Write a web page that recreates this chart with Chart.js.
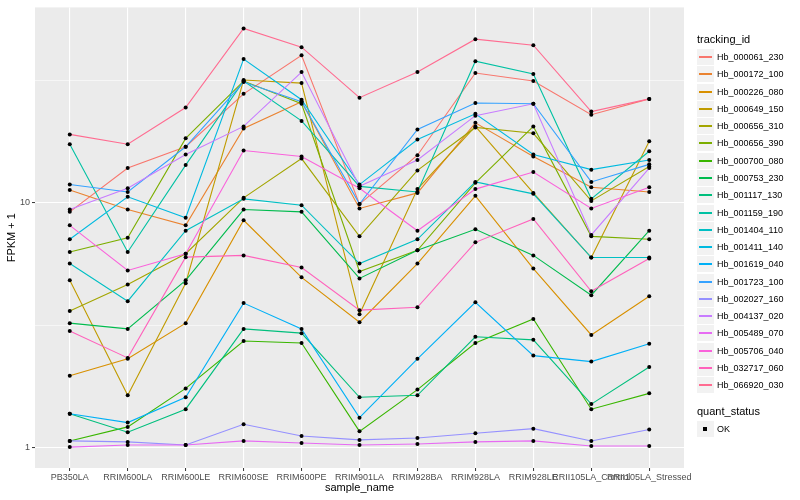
<!DOCTYPE html>
<html>
<head>
<meta charset="utf-8">
<script src="https://cdn.jsdelivr.net/npm/chart.js@4"></script>
<style>
  body { margin: 0; background: #ffffff; }
  #wrap { position: relative; width: 800px; height: 500px; font-family: "Liberation Sans", Arial, sans-serif; color: #000; }
  #c { position: absolute; left: 0; top: 0; }
  .lg-title { position: absolute; left: 697px; font-size: 11px; line-height: 13px; white-space: nowrap; }
  .lg-key { position: absolute; left: 697px; width: 17px; height: 16px; background: #F2F2F2; }
  .lg-line { position: absolute; left: 2px; right: 2px; top: 7px; height: 2px; }
  .lg-dot { position: absolute; left: 6px; top: 6px; width: 4px; height: 4px; background: #000; }
  .lg-text { position: absolute; left: 717px; font-size: 9px; line-height: 11px; white-space: nowrap; }
</style>
</head>
<body>
<div id="wrap">
  <canvas id="c" width="800" height="500"></canvas>
</div>
<script>
// ---- data (FPKM + 1) ----
const samples = ["PB350LA","RRIM600LA","RRIM600LE","RRIM600SE","RRIM600PE","RRIM901LA","RRIM928BA","RRIM928LA","RRIM928LE","RRII105LA_Control","RRII105LA_Stressed"];
const trackingIds = ["Hb_000061_230","Hb_000172_100","Hb_000226_080","Hb_000649_150","Hb_000656_310","Hb_000656_390","Hb_000700_080","Hb_000753_230","Hb_001117_130","Hb_001159_190","Hb_001404_110","Hb_001411_140","Hb_001619_040","Hb_001723_100","Hb_002027_160","Hb_004137_020","Hb_005489_070","Hb_005706_040","Hb_032717_060","Hb_066920_030"];
const seriesColors = ["#F8766D","#EA8331","#D89000","#C09B00","#A3A500","#7CAE00","#39B600","#00BB4E","#00BF7D","#00C1A3","#00BFC4","#00BAE0","#00B0F6","#35A2FF","#9590FF","#C77CFF","#E76BF3","#FA62DB","#FF62BC","#FF6C91"];

const hb_000061_230 = [9.2, 13.9, 17.0, 28.0, 40.3, 9.9, 15.7, 34.1, 31.6, 23.0, 26.7];
const hb_000172_100 = [11.3, 9.4, 8.1, 20.2, 26.0, 9.5, 11.0, 21.3, 15.5, 11.6, 11.1];
const hb_000226_080 = [1.96, 2.30, 3.22, 8.5, 4.96, 3.25, 5.65, 10.7, 5.39, 2.88, 4.15];
const hb_000649_150 = [4.82, 1.63, 4.69, 31.9, 31.0, 3.50, 11.4, 20.6, 11.0, 5.98, 17.9];
const hb_000656_310 = [3.61, 4.64, 6.2, 10.5, 15.2, 7.3, 13.6, 20.4, 19.3, 10.2, 14.1];
const hb_000656_390 = [6.3, 7.2, 18.4, 31.6, 25.5, 5.24, 6.4, 12.1, 20.6, 7.3, 7.1];
const hb_000700_080 = [1.06, 1.21, 1.74, 2.72, 2.67, 1.16, 1.72, 2.67, 3.35, 1.43, 1.66];
const hb_000753_230 = [3.22, 3.05, 4.82, 9.4, 9.2, 4.91, 6.4, 7.8, 6.1, 4.19, 7.7];
const hb_001117_130 = [1.37, 1.15, 1.43, 3.05, 2.93, 1.60, 1.63, 2.83, 2.75, 1.50, 2.13];
const hb_001159_190 = [17.4, 6.3, 14.3, 31.6, 21.7, 11.7, 11.1, 38.1, 33.8, 10.4, 16.3];
const hb_001404_110 = [5.65, 3.96, 7.7, 10.4, 9.8, 5.65, 7.1, 12.2, 10.9, 5.98, 5.98];
const hb_001411_140 = [7.1, 10.6, 8.7, 38.9, 26.5, 11.9, 18.2, 23.2, 15.8, 13.7, 15.0];
const hb_001619_040 = [1.37, 1.26, 1.60, 3.89, 3.05, 1.32, 2.30, 3.92, 2.37, 2.24, 2.65];
const hb_001723_100 = [11.9, 11.1, 17.0, 31.3, 26.0, 9.9, 20.0, 25.7, 25.5, 12.2, 14.4];
const hb_002027_160 = [1.06, 1.05, 1.02, 1.24, 1.11, 1.07, 1.09, 1.14, 1.19, 1.06, 1.18];
const hb_004137_020 = [9.4, 11.5, 15.8, 20.6, 34.4, 11.7, 15.0, 22.8, 25.5, 7.4, 13.9];
const hb_005489_070 = [1.00, 1.02, 1.02, 1.06, 1.04, 1.02, 1.03, 1.05, 1.06, 1.01, 1.01];
const hb_005706_040 = [8.1, 5.29, 6.2, 16.4, 15.5, 11.5, 7.7, 11.4, 13.4, 9.5, 11.6];
const hb_032717_060 = [2.99, 2.32, 6.0, 6.1, 5.44, 3.64, 3.74, 6.9, 8.6, 4.35, 5.92];
const hb_066920_030 = [19.1, 17.4, 24.6, 51.9, 43.5, 27.0, 34.4, 46.9, 44.3, 23.7, 26.7];

const yMajorTicks = [1, 10];
const yMinorTicks = [3.1623, 31.623];
const quantStatus = ["OK"];

const seriesValues = [hb_000061_230, hb_000172_100, hb_000226_080, hb_000649_150, hb_000656_310, hb_000656_390, hb_000700_080, hb_000753_230, hb_001117_130, hb_001159_190, hb_001404_110, hb_001411_140, hb_001619_040, hb_001723_100, hb_002027_160, hb_004137_020, hb_005489_070, hb_005706_040, hb_032717_060, hb_066920_030];

// ---- datasets ----
const datasets = seriesValues.map((vals, i) => ({
  type: 'line',
  label: trackingIds[i],
  data: vals.map((v, j) => ({ x: j, y: v })),
  borderColor: seriesColors[i],
  backgroundColor: seriesColors[i],
  borderWidth: 1.1,
  pointRadius: 0,
  tension: 0,
  fill: false,
  order: 20 - i
}));
const allPoints = [];
seriesValues.forEach(vals => vals.forEach((v, j) => allPoints.push({ x: j, y: v })));
datasets.push({
  type: 'scatter',
  label: quantStatus[0],
  data: allPoints,
  pointRadius: 2,
  pointHoverRadius: 2,
  pointStyle: 'circle',
  backgroundColor: '#000000',
  borderWidth: 0,
  order: 0
});

const panelBg = {
  id: 'panelBg',
  beforeDraw(chart) {
    const { ctx, chartArea: a } = chart;
    ctx.save();
    ctx.fillStyle = '#EBEBEB';
    ctx.fillRect(a.left, a.top, a.right - a.left, a.bottom - a.top);
    ctx.restore();
  }
};

const isMajor = v => yMajorTicks.some(m => Math.abs(m - v) < 1e-6);

new Chart(document.getElementById('c'), {
  data: { datasets },
  options: {
    responsive: false,
    animation: false,
    events: [],
    layout: { padding: { left: 0, top: 5, right: 116, bottom: 0 } },
    plugins: { legend: { display: false }, tooltip: { enabled: false } },
    scales: {
      x: {
        type: 'linear',
        min: -0.6,
        max: 10.6,
        afterBuildTicks: s => { s.ticks = samples.map((_, i) => ({ value: i })); },
        afterFit: s => { s.height = 32; },
        ticks: {
          callback: v => samples[Math.round(v)],
          autoSkip: false,
          maxRotation: 0,
          minRotation: 0,
          color: '#4D4D4D',
          font: { family: '"Liberation Sans", Arial, sans-serif', size: 9 },
          padding: 1
        },
        grid: { color: '#FFFFFF', lineWidth: 1.1, drawTicks: true, tickLength: 3, tickColor: '#333333', tickWidth: 1 },
        border: { display: false },
        title: { display: true, text: 'sample_name', color: '#000000', font: { family: '"Liberation Sans", Arial, sans-serif', size: 11 }, padding: { top: 0, bottom: 5.4 } }
      },
      y: {
        type: 'logarithmic',
        min: 0.821,
        max: 63.3,
        afterBuildTicks: s => { s.ticks = [...yMajorTicks, ...yMinorTicks].sort((a, b) => a - b).map(v => ({ value: v, major: isMajor(v) })); },
        afterFit: s => { s.width = 35; },
        ticks: {
          callback: v => isMajor(v) ? String(Math.round(v)) : '',
          color: '#4D4D4D',
          font: { family: '"Liberation Sans", Arial, sans-serif', size: 9 },
          padding: 2
        },
        grid: {
          color: '#FFFFFF',
          lineWidth: c => (c.tick && isMajor(c.tick.value)) ? 1.1 : 0.55,
          drawTicks: true,
          tickLength: 3,
          tickColor: c => (c.tick && isMajor(c.tick.value)) ? '#333333' : 'rgba(0,0,0,0)',
          tickWidth: 1
        },
        border: { display: false },
        title: { display: true, text: 'FPKM + 1', color: '#000000', font: { family: '"Liberation Sans", Arial, sans-serif', size: 11 }, padding: { top: 5.4, bottom: 0 } }
      }
    }
  },
  plugins: [panelBg]
});

// ---- HTML legend ----
const wrap = document.getElementById('wrap');
function el(cls, css, text) {
  const d = document.createElement('div');
  d.className = cls;
  Object.assign(d.style, css || {});
  if (text !== undefined) d.textContent = text;
  wrap.appendChild(d);
  return d;
}
el('lg-title', { top: '33px' }, 'tracking_id');
trackingIds.forEach((id, i) => {
  const top = Math.round(49 + i * 17.28);
  const k = el('lg-key', { top: top + 'px' });
  const ln = document.createElement('div');
  ln.className = 'lg-line';
  ln.style.background = seriesColors[i];
  k.appendChild(ln);
  el('lg-text', { top: (top + 3) + 'px' }, id);
});
el('lg-title', { top: '405px' }, 'quant_status');
const ko = el('lg-key', { top: '421px' });
const dot = document.createElement('div');
dot.className = 'lg-dot';
ko.appendChild(dot);
el('lg-text', { top: '424px' }, quantStatus[0]);
</script>
</body>
</html>
